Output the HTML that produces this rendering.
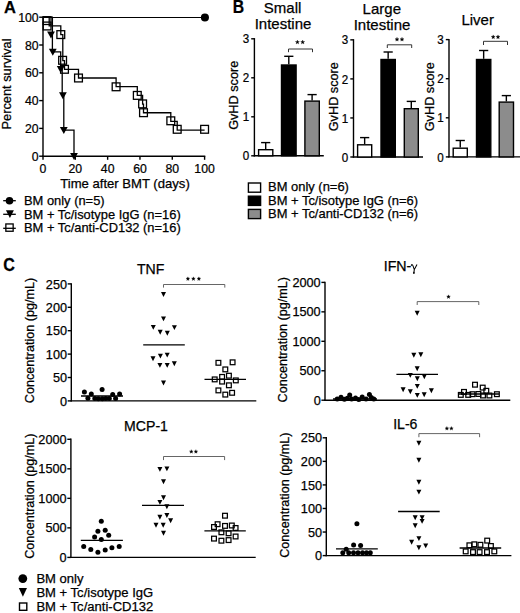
<!DOCTYPE html>
<html><head><meta charset="utf-8"><style>
html,body{margin:0;padding:0;background:#fff;}
svg{display:block;font-family:"Liberation Sans", sans-serif;}
text{fill:#000;stroke:#000;stroke-width:0.25px;}
</style></head><body>
<svg width="520" height="613" viewBox="0 0 520 613">
<rect width="520" height="613" fill="#fff"/>
<text x="4.00" y="13.30" font-size="16.5" text-anchor="start" font-weight="bold" >A</text>
<line x1="43.00" y1="16.50" x2="43.00" y2="156.90" stroke="#000" stroke-width="1.4"/>
<line x1="42.30" y1="156.20" x2="205.30" y2="156.20" stroke="#000" stroke-width="1.4"/>
<line x1="39.20" y1="156.20" x2="43.00" y2="156.20" stroke="#000" stroke-width="1.4"/>
<text transform="translate(38.60,160.80) scale(0.93,1)" x="0" y="0" font-size="13.2" text-anchor="end">0</text>
<line x1="39.20" y1="128.40" x2="43.00" y2="128.40" stroke="#000" stroke-width="1.4"/>
<text transform="translate(38.60,133.00) scale(0.93,1)" x="0" y="0" font-size="13.2" text-anchor="end">20</text>
<line x1="39.20" y1="100.60" x2="43.00" y2="100.60" stroke="#000" stroke-width="1.4"/>
<text transform="translate(38.60,105.20) scale(0.93,1)" x="0" y="0" font-size="13.2" text-anchor="end">40</text>
<line x1="39.20" y1="72.80" x2="43.00" y2="72.80" stroke="#000" stroke-width="1.4"/>
<text transform="translate(38.60,77.40) scale(0.93,1)" x="0" y="0" font-size="13.2" text-anchor="end">60</text>
<line x1="39.20" y1="45.00" x2="43.00" y2="45.00" stroke="#000" stroke-width="1.4"/>
<text transform="translate(38.60,49.60) scale(0.93,1)" x="0" y="0" font-size="13.2" text-anchor="end">80</text>
<line x1="39.20" y1="17.20" x2="43.00" y2="17.20" stroke="#000" stroke-width="1.4"/>
<text transform="translate(38.60,21.80) scale(0.93,1)" x="0" y="0" font-size="13.2" text-anchor="end">100</text>
<line x1="43.00" y1="156.20" x2="43.00" y2="159.80" stroke="#000" stroke-width="1.4"/>
<text transform="translate(43.00,172.70) scale(0.93,1)" x="0" y="0" font-size="13.2" text-anchor="middle">0</text>
<line x1="75.32" y1="156.20" x2="75.32" y2="159.80" stroke="#000" stroke-width="1.4"/>
<text transform="translate(75.32,172.70) scale(0.93,1)" x="0" y="0" font-size="13.2" text-anchor="middle">20</text>
<line x1="107.64" y1="156.20" x2="107.64" y2="159.80" stroke="#000" stroke-width="1.4"/>
<text transform="translate(107.64,172.70) scale(0.93,1)" x="0" y="0" font-size="13.2" text-anchor="middle">40</text>
<line x1="139.96" y1="156.20" x2="139.96" y2="159.80" stroke="#000" stroke-width="1.4"/>
<text transform="translate(139.96,172.70) scale(0.93,1)" x="0" y="0" font-size="13.2" text-anchor="middle">60</text>
<line x1="172.28" y1="156.20" x2="172.28" y2="159.80" stroke="#000" stroke-width="1.4"/>
<text transform="translate(172.28,172.70) scale(0.93,1)" x="0" y="0" font-size="13.2" text-anchor="middle">80</text>
<line x1="204.60" y1="156.20" x2="204.60" y2="159.80" stroke="#000" stroke-width="1.4"/>
<text transform="translate(204.60,172.70) scale(0.93,1)" x="0" y="0" font-size="13.2" text-anchor="middle">100</text>
<text x="125.00" y="188.20" font-size="13.1" text-anchor="middle" font-weight="normal" >Time after BMT (days)</text>
<text transform="translate(10.70,84.00) rotate(-90)" x="0" y="0" font-size="12.8" text-anchor="middle">Percent survival</text>
<line x1="43.00" y1="17.45" x2="204.60" y2="17.45" stroke="#000" stroke-width="1.1"/>
<circle cx="204.90" cy="17.45" r="4.05" fill="#000" stroke="none" stroke-width="0"/>
<path d="M43.0,17.20 L52.40,17.20 L52.40,51.95 L60.70,51.95 L60.70,69.32 L62.20,69.32 L62.20,95.39 L63.80,95.39 L63.80,130.14 L74.00,130.14 L74.00,156.20" fill="none" stroke="#000" stroke-width="1.3"/>
<path d="M47.10,31.38 L54.90,31.38 L51.00,38.38 Z" fill="#000"/>
<path d="M48.90,48.75 L56.70,48.75 L52.80,55.75 Z" fill="#000"/>
<path d="M56.80,66.12 L64.60,66.12 L60.70,73.12 Z" fill="#000"/>
<path d="M59.00,92.19 L66.80,92.19 L62.90,99.19 Z" fill="#000"/>
<path d="M59.90,126.94 L67.70,126.94 L63.80,133.94 Z" fill="#000"/>
<path d="M70.10,153.00 L77.90,153.00 L74.00,160.00 Z" fill="#000"/>
<path d="M43.0,17.20 L49.20,17.20 L49.20,25.89 L60.80,25.89 L60.80,34.58 L62.80,34.58 L62.80,60.64 L64.50,60.64 L64.50,69.32 L78.50,69.32 L78.50,78.01 L116.10,78.01 L116.10,86.70 L137.30,86.70 L137.30,95.39 L142.60,95.39 L142.60,104.07 L143.50,104.07 L143.50,112.76 L170.80,112.76 L170.80,121.45 L177.20,121.45 L177.20,130.14 L204.60,130.14" fill="none" stroke="#000" stroke-width="1.3"/>
<rect x="43.20" y="16.70" width="7.8" height="7.8" fill="none" stroke="#000" stroke-width="1.3"/>
<rect x="43.20" y="22.10" width="7.8" height="7.8" fill="none" stroke="#000" stroke-width="1.3"/>
<rect x="56.90" y="30.70" width="7.8" height="7.8" fill="none" stroke="#000" stroke-width="1.3"/>
<rect x="58.70" y="56.40" width="7.8" height="7.8" fill="none" stroke="#000" stroke-width="1.3"/>
<rect x="60.60" y="65.40" width="7.8" height="7.8" fill="none" stroke="#000" stroke-width="1.3"/>
<rect x="74.60" y="74.10" width="7.8" height="7.8" fill="none" stroke="#000" stroke-width="1.3"/>
<rect x="112.20" y="82.90" width="7.8" height="7.8" fill="none" stroke="#000" stroke-width="1.3"/>
<rect x="133.40" y="91.50" width="7.8" height="7.8" fill="none" stroke="#000" stroke-width="1.3"/>
<rect x="138.70" y="100.00" width="7.8" height="7.8" fill="none" stroke="#000" stroke-width="1.3"/>
<rect x="139.60" y="108.80" width="7.8" height="7.8" fill="none" stroke="#000" stroke-width="1.3"/>
<rect x="166.90" y="116.90" width="7.8" height="7.8" fill="none" stroke="#000" stroke-width="1.3"/>
<rect x="173.30" y="125.40" width="7.8" height="7.8" fill="none" stroke="#000" stroke-width="1.3"/>
<rect x="200.70" y="125.40" width="7.8" height="7.8" fill="none" stroke="#000" stroke-width="1.3"/>
<line x1="3.20" y1="200.70" x2="15.80" y2="200.70" stroke="#000" stroke-width="1.3"/>
<circle cx="9.50" cy="200.80" r="3.8" fill="#000" stroke="none" stroke-width="0"/>
<text x="24.00" y="205.20" font-size="12.9" text-anchor="start" font-weight="normal" >BM only (n=5)</text>
<line x1="3.20" y1="214.30" x2="15.80" y2="214.30" stroke="#000" stroke-width="1.3"/>
<path d="M5.90,210.30 L13.90,210.30 L9.90,218.10 Z" fill="#000"/>
<text x="24.00" y="218.60" font-size="12.9" text-anchor="start" font-weight="normal" >BM + Tc/isotype IgG (n=16)</text>
<rect x="5.85" y="223.95" width="7.3" height="7.3" fill="none" stroke="#000" stroke-width="1.3"/>
<line x1="3.20" y1="228.30" x2="15.80" y2="228.30" stroke="#000" stroke-width="1.3"/>
<text x="24.00" y="232.10" font-size="12.9" text-anchor="start" font-weight="normal" >BM + Tc/anti-CD132 (n=16)</text>
<text transform="translate(232.8,13.4) scale(0.9,1)" font-size="17.5" font-weight="bold">B</text>
<line x1="254.40" y1="38.10" x2="254.40" y2="156.50" stroke="#000" stroke-width="1.4"/>
<line x1="253.70" y1="155.80" x2="323.80" y2="155.80" stroke="#000" stroke-width="1.4"/>
<line x1="251.20" y1="155.80" x2="254.40" y2="155.80" stroke="#000" stroke-width="1.4"/>
<text transform="translate(249.20,160.40) scale(0.9,1)" x="0" y="0" font-size="12.9" text-anchor="end">0</text>
<line x1="251.20" y1="116.80" x2="254.40" y2="116.80" stroke="#000" stroke-width="1.4"/>
<text transform="translate(249.20,121.40) scale(0.9,1)" x="0" y="0" font-size="12.9" text-anchor="end">1</text>
<line x1="251.20" y1="77.80" x2="254.40" y2="77.80" stroke="#000" stroke-width="1.4"/>
<text transform="translate(249.20,82.40) scale(0.9,1)" x="0" y="0" font-size="12.9" text-anchor="end">2</text>
<line x1="251.20" y1="38.80" x2="254.40" y2="38.80" stroke="#000" stroke-width="1.4"/>
<text transform="translate(249.20,43.40) scale(0.9,1)" x="0" y="0" font-size="12.9" text-anchor="end">3</text>
<line x1="265.70" y1="149.00" x2="265.70" y2="142.60" stroke="#000" stroke-width="1.4"/>
<line x1="261.10" y1="142.60" x2="270.30" y2="142.60" stroke="#000" stroke-width="1.4"/>
<rect x="258.60" y="149.70" width="14.20" height="6.10" fill="#fff" stroke="#000" stroke-width="1.4"/>
<line x1="288.80" y1="64.30" x2="288.80" y2="56.30" stroke="#000" stroke-width="1.4"/>
<line x1="284.20" y1="56.30" x2="293.40" y2="56.30" stroke="#000" stroke-width="1.4"/>
<rect x="281.50" y="65.00" width="14.60" height="90.80" fill="#000" stroke="#000" stroke-width="1.4"/>
<line x1="312.10" y1="100.40" x2="312.10" y2="94.60" stroke="#000" stroke-width="1.4"/>
<line x1="307.50" y1="94.60" x2="316.70" y2="94.60" stroke="#000" stroke-width="1.4"/>
<rect x="304.90" y="101.10" width="14.40" height="54.70" fill="#8c8c8c" stroke="#000" stroke-width="1.4"/>
<path d="M288.5,52.2 L288.5,49.0 L312.5,49.0 L312.5,52.2" fill="none" stroke="#333" stroke-width="1"/>
<path d="M297.40,40.10 L297.93,41.47 L299.40,41.55 L298.26,42.48 L298.63,43.90 L297.40,43.10 L296.17,43.90 L296.54,42.48 L295.40,41.55 L296.87,41.47 Z" fill="#000" stroke="#000" stroke-width="0.3"/>
<path d="M302.70,40.10 L303.23,41.47 L304.70,41.55 L303.56,42.48 L303.93,43.90 L302.70,43.10 L301.47,43.90 L301.84,42.48 L300.70,41.55 L302.17,41.47 Z" fill="#000" stroke="#000" stroke-width="0.3"/>
<text x="282.60" y="12.90" font-size="15.0" text-anchor="middle" font-weight="normal" >Small</text>
<text x="283.00" y="28.60" font-size="15.0" text-anchor="middle" font-weight="normal" >Intestine</text>
<text transform="translate(238.40,95.30) rotate(-90)" x="0" y="0" font-size="12.7" text-anchor="middle">GvHD score</text>
<line x1="353.50" y1="39.15" x2="353.50" y2="157.70" stroke="#000" stroke-width="1.4"/>
<line x1="352.80" y1="157.00" x2="423.00" y2="157.00" stroke="#000" stroke-width="1.4"/>
<line x1="350.30" y1="157.00" x2="353.50" y2="157.00" stroke="#000" stroke-width="1.4"/>
<text transform="translate(348.30,161.60) scale(0.9,1)" x="0" y="0" font-size="12.9" text-anchor="end">0</text>
<line x1="350.30" y1="117.95" x2="353.50" y2="117.95" stroke="#000" stroke-width="1.4"/>
<text transform="translate(348.30,122.55) scale(0.9,1)" x="0" y="0" font-size="12.9" text-anchor="end">1</text>
<line x1="350.30" y1="78.90" x2="353.50" y2="78.90" stroke="#000" stroke-width="1.4"/>
<text transform="translate(348.30,83.50) scale(0.9,1)" x="0" y="0" font-size="12.9" text-anchor="end">2</text>
<line x1="350.30" y1="39.85" x2="353.50" y2="39.85" stroke="#000" stroke-width="1.4"/>
<text transform="translate(348.30,44.45) scale(0.9,1)" x="0" y="0" font-size="12.9" text-anchor="end">3</text>
<line x1="364.65" y1="144.10" x2="364.65" y2="137.60" stroke="#000" stroke-width="1.4"/>
<line x1="360.05" y1="137.60" x2="369.25" y2="137.60" stroke="#000" stroke-width="1.4"/>
<rect x="357.60" y="144.80" width="14.10" height="12.20" fill="#fff" stroke="#000" stroke-width="1.4"/>
<line x1="388.15" y1="58.80" x2="388.15" y2="52.00" stroke="#000" stroke-width="1.4"/>
<line x1="383.55" y1="52.00" x2="392.75" y2="52.00" stroke="#000" stroke-width="1.4"/>
<rect x="381.00" y="59.50" width="14.30" height="97.50" fill="#000" stroke="#000" stroke-width="1.4"/>
<line x1="411.30" y1="108.00" x2="411.30" y2="101.40" stroke="#000" stroke-width="1.4"/>
<line x1="406.70" y1="101.40" x2="415.90" y2="101.40" stroke="#000" stroke-width="1.4"/>
<rect x="404.30" y="108.70" width="14.00" height="48.30" fill="#8c8c8c" stroke="#000" stroke-width="1.4"/>
<path d="M387.3,48.0 L387.3,44.8 L411.7,44.8 L411.7,48.0" fill="none" stroke="#333" stroke-width="1"/>
<path d="M397.00,37.30 L397.53,38.67 L399.00,38.75 L397.86,39.68 L398.23,41.10 L397.00,40.30 L395.77,41.10 L396.14,39.68 L395.00,38.75 L396.47,38.67 Z" fill="#000" stroke="#000" stroke-width="0.3"/>
<path d="M402.00,37.30 L402.53,38.67 L404.00,38.75 L402.86,39.68 L403.23,41.10 L402.00,40.30 L400.77,41.10 L401.14,39.68 L400.00,38.75 L401.47,38.67 Z" fill="#000" stroke="#000" stroke-width="0.3"/>
<text x="381.80" y="14.30" font-size="15.0" text-anchor="middle" font-weight="normal" >Large</text>
<text x="382.00" y="30.10" font-size="15.0" text-anchor="middle" font-weight="normal" >Intestine</text>
<text transform="translate(337.90,96.70) rotate(-90)" x="0" y="0" font-size="12.7" text-anchor="middle">GvHD score</text>
<line x1="449.00" y1="38.90" x2="449.00" y2="157.60" stroke="#000" stroke-width="1.4"/>
<line x1="448.30" y1="156.90" x2="520.00" y2="156.90" stroke="#000" stroke-width="1.4"/>
<line x1="445.80" y1="156.90" x2="449.00" y2="156.90" stroke="#000" stroke-width="1.4"/>
<text transform="translate(443.80,161.50) scale(0.9,1)" x="0" y="0" font-size="12.9" text-anchor="end">0</text>
<line x1="445.80" y1="117.80" x2="449.00" y2="117.80" stroke="#000" stroke-width="1.4"/>
<text transform="translate(443.80,122.40) scale(0.9,1)" x="0" y="0" font-size="12.9" text-anchor="end">1</text>
<line x1="445.80" y1="78.70" x2="449.00" y2="78.70" stroke="#000" stroke-width="1.4"/>
<text transform="translate(443.80,83.30) scale(0.9,1)" x="0" y="0" font-size="12.9" text-anchor="end">2</text>
<line x1="445.80" y1="39.60" x2="449.00" y2="39.60" stroke="#000" stroke-width="1.4"/>
<text transform="translate(443.80,44.20) scale(0.9,1)" x="0" y="0" font-size="12.9" text-anchor="end">3</text>
<line x1="460.25" y1="147.50" x2="460.25" y2="140.50" stroke="#000" stroke-width="1.4"/>
<line x1="455.65" y1="140.50" x2="464.85" y2="140.50" stroke="#000" stroke-width="1.4"/>
<rect x="453.20" y="148.20" width="14.10" height="8.70" fill="#fff" stroke="#000" stroke-width="1.4"/>
<line x1="483.65" y1="58.80" x2="483.65" y2="50.50" stroke="#000" stroke-width="1.4"/>
<line x1="479.05" y1="50.50" x2="488.25" y2="50.50" stroke="#000" stroke-width="1.4"/>
<rect x="476.50" y="59.50" width="14.30" height="97.40" fill="#000" stroke="#000" stroke-width="1.4"/>
<line x1="506.35" y1="101.40" x2="506.35" y2="95.60" stroke="#000" stroke-width="1.4"/>
<line x1="501.75" y1="95.60" x2="510.95" y2="95.60" stroke="#000" stroke-width="1.4"/>
<rect x="499.20" y="102.10" width="14.30" height="54.80" fill="#8c8c8c" stroke="#000" stroke-width="1.4"/>
<path d="M483.5,45.0 L483.5,41.3 L507.5,41.3 L507.5,45.0" fill="none" stroke="#333" stroke-width="1"/>
<path d="M493.20,34.90 L493.73,36.27 L495.20,36.35 L494.06,37.28 L494.43,38.70 L493.20,37.90 L491.97,38.70 L492.34,37.28 L491.20,36.35 L492.67,36.27 Z" fill="#000" stroke="#000" stroke-width="0.3"/>
<path d="M498.00,34.90 L498.53,36.27 L500.00,36.35 L498.86,37.28 L499.23,38.70 L498.00,37.90 L496.77,38.70 L497.14,37.28 L496.00,36.35 L497.47,36.27 Z" fill="#000" stroke="#000" stroke-width="0.3"/>
<text x="477.70" y="25.30" font-size="15.0" text-anchor="middle" font-weight="normal" >Liver</text>
<text transform="translate(433.90,96.70) rotate(-90)" x="0" y="0" font-size="12.7" text-anchor="middle">GvHD score</text>
<rect x="248.40" y="183.00" width="12.2" height="9.2" fill="#fff" stroke="#000" stroke-width="1.4"/>
<text x="268.00" y="191.40" font-size="12.95" text-anchor="start" font-weight="normal" >BM only (n=6)</text>
<rect x="248.40" y="196.20" width="12.2" height="9.2" fill="#000" stroke="#000" stroke-width="1.4"/>
<text x="268.00" y="204.60" font-size="12.95" text-anchor="start" font-weight="normal" >BM + Tc/isotype IgG (n=6)</text>
<rect x="248.40" y="209.40" width="12.2" height="9.2" fill="#8c8c8c" stroke="#000" stroke-width="1.4"/>
<text x="268.00" y="217.80" font-size="12.95" text-anchor="start" font-weight="normal" >BM + Tc/anti-CD132 (n=6)</text>
<text transform="translate(3.3,270.8) scale(0.92,1)" font-size="17.5" font-weight="bold">C</text>
<line x1="71.30" y1="283.20" x2="71.30" y2="401.60" stroke="#000" stroke-width="1.4"/>
<line x1="70.60" y1="400.90" x2="256.30" y2="400.90" stroke="#000" stroke-width="1.4"/>
<line x1="67.70" y1="400.90" x2="71.30" y2="400.90" stroke="#000" stroke-width="1.4"/>
<text x="67.00" y="405.50" font-size="12.7" text-anchor="end" font-weight="normal" >0</text>
<line x1="67.70" y1="377.50" x2="71.30" y2="377.50" stroke="#000" stroke-width="1.4"/>
<text x="67.00" y="382.10" font-size="12.7" text-anchor="end" font-weight="normal" >50</text>
<line x1="67.70" y1="354.10" x2="71.30" y2="354.10" stroke="#000" stroke-width="1.4"/>
<text x="67.00" y="358.70" font-size="12.7" text-anchor="end" font-weight="normal" >100</text>
<line x1="67.70" y1="330.70" x2="71.30" y2="330.70" stroke="#000" stroke-width="1.4"/>
<text x="67.00" y="335.30" font-size="12.7" text-anchor="end" font-weight="normal" >150</text>
<line x1="67.70" y1="307.30" x2="71.30" y2="307.30" stroke="#000" stroke-width="1.4"/>
<text x="67.00" y="311.90" font-size="12.7" text-anchor="end" font-weight="normal" >200</text>
<line x1="67.70" y1="283.90" x2="71.30" y2="283.90" stroke="#000" stroke-width="1.4"/>
<text x="67.00" y="288.50" font-size="12.7" text-anchor="end" font-weight="normal" >250</text>
<text x="150.60" y="274.10" font-size="14.1" text-anchor="middle" font-weight="normal" >TNF</text>
<path d="M163.5,287.6 L163.5,284.5 L224.8,284.5 L224.8,287.6" fill="none" stroke="#555" stroke-width="0.9"/>
<path d="M187.90,276.85 L188.40,278.11 L189.75,278.20 L188.71,279.06 L189.05,280.38 L187.90,279.65 L186.75,280.38 L187.09,279.06 L186.05,278.20 L187.40,278.11 Z" fill="#000" stroke="#000" stroke-width="0.3"/>
<path d="M193.40,276.85 L193.90,278.11 L195.25,278.20 L194.21,279.06 L194.55,280.38 L193.40,279.65 L192.25,280.38 L192.59,279.06 L191.55,278.20 L192.90,278.11 Z" fill="#000" stroke="#000" stroke-width="0.3"/>
<path d="M198.90,276.85 L199.40,278.11 L200.75,278.20 L199.71,279.06 L200.05,280.38 L198.90,279.65 L197.75,280.38 L198.09,279.06 L197.05,278.20 L198.40,278.11 Z" fill="#000" stroke="#000" stroke-width="0.3"/>
<text transform="translate(34.20,340.50) rotate(-90)" x="0" y="0" font-size="12.6" text-anchor="middle">Concentration (pg/mL)</text>
<circle cx="84.40" cy="391.90" r="2.5" fill="#000" stroke="none" stroke-width="0"/>
<circle cx="91.30" cy="394.00" r="2.5" fill="#000" stroke="none" stroke-width="0"/>
<circle cx="102.10" cy="389.40" r="2.5" fill="#000" stroke="none" stroke-width="0"/>
<circle cx="112.70" cy="394.60" r="2.5" fill="#000" stroke="none" stroke-width="0"/>
<circle cx="119.60" cy="394.00" r="2.5" fill="#000" stroke="none" stroke-width="0"/>
<circle cx="87.90" cy="398.30" r="2.5" fill="#000" stroke="none" stroke-width="0"/>
<circle cx="94.80" cy="398.60" r="2.5" fill="#000" stroke="none" stroke-width="0"/>
<circle cx="98.30" cy="398.80" r="2.5" fill="#000" stroke="none" stroke-width="0"/>
<circle cx="102.30" cy="398.80" r="2.5" fill="#000" stroke="none" stroke-width="0"/>
<circle cx="105.80" cy="398.60" r="2.5" fill="#000" stroke="none" stroke-width="0"/>
<circle cx="109.30" cy="398.60" r="2.5" fill="#000" stroke="none" stroke-width="0"/>
<circle cx="115.60" cy="398.40" r="2.5" fill="#000" stroke="none" stroke-width="0"/>
<line x1="81.00" y1="396.00" x2="123.00" y2="396.00" stroke="#000" stroke-width="1.3"/>
<path d="M161.00,292.05 L166.00,292.05 L163.50,296.95 Z" fill="#000"/>
<path d="M161.00,316.45 L166.00,316.45 L163.50,321.35 Z" fill="#000"/>
<path d="M150.80,324.95 L155.80,324.95 L153.30,329.85 Z" fill="#000"/>
<path d="M171.90,325.15 L176.90,325.15 L174.40,330.05 Z" fill="#000"/>
<path d="M157.70,329.75 L162.70,329.75 L160.20,334.65 Z" fill="#000"/>
<path d="M164.80,330.75 L169.80,330.75 L167.30,335.65 Z" fill="#000"/>
<path d="M150.50,356.35 L155.50,356.35 L153.00,361.25 Z" fill="#000"/>
<path d="M157.90,353.65 L162.90,353.65 L160.40,358.55 Z" fill="#000"/>
<path d="M164.70,352.65 L169.70,352.65 L167.20,357.55 Z" fill="#000"/>
<path d="M157.40,362.95 L162.40,362.95 L159.90,367.85 Z" fill="#000"/>
<path d="M164.70,362.95 L169.70,362.95 L167.20,367.85 Z" fill="#000"/>
<path d="M171.80,361.25 L176.80,361.25 L174.30,366.15 Z" fill="#000"/>
<path d="M161.00,380.55 L166.00,380.55 L163.50,385.45 Z" fill="#000"/>
<line x1="143.20" y1="344.90" x2="184.80" y2="344.90" stroke="#000" stroke-width="1.3"/>
<line x1="204.50" y1="379.40" x2="246.00" y2="379.40" stroke="#000" stroke-width="1.3"/>
<rect x="216.03" y="360.43" width="4.75" height="4.75" fill="none" stroke="#000" stroke-width="1.25"/>
<rect x="230.22" y="359.93" width="4.75" height="4.75" fill="none" stroke="#000" stroke-width="1.25"/>
<rect x="222.93" y="367.02" width="4.75" height="4.75" fill="none" stroke="#000" stroke-width="1.25"/>
<rect x="219.72" y="374.52" width="4.75" height="4.75" fill="none" stroke="#000" stroke-width="1.25"/>
<rect x="226.53" y="373.32" width="4.75" height="4.75" fill="none" stroke="#000" stroke-width="1.25"/>
<rect x="212.32" y="377.02" width="4.75" height="4.75" fill="none" stroke="#000" stroke-width="1.25"/>
<rect x="219.72" y="379.23" width="4.75" height="4.75" fill="none" stroke="#000" stroke-width="1.25"/>
<rect x="233.43" y="378.02" width="4.75" height="4.75" fill="none" stroke="#000" stroke-width="1.25"/>
<rect x="226.53" y="382.93" width="4.75" height="4.75" fill="none" stroke="#000" stroke-width="1.25"/>
<rect x="216.03" y="388.02" width="4.75" height="4.75" fill="none" stroke="#000" stroke-width="1.25"/>
<rect x="229.72" y="390.43" width="4.75" height="4.75" fill="none" stroke="#000" stroke-width="1.25"/>
<rect x="222.93" y="392.23" width="4.75" height="4.75" fill="none" stroke="#000" stroke-width="1.25"/>
<line x1="325.00" y1="281.70" x2="325.00" y2="400.90" stroke="#000" stroke-width="1.4"/>
<line x1="324.30" y1="400.20" x2="510.30" y2="400.20" stroke="#000" stroke-width="1.4"/>
<line x1="321.40" y1="400.20" x2="325.00" y2="400.20" stroke="#000" stroke-width="1.4"/>
<text x="320.70" y="404.80" font-size="12.7" text-anchor="end" font-weight="normal" >0</text>
<line x1="321.40" y1="370.75" x2="325.00" y2="370.75" stroke="#000" stroke-width="1.4"/>
<text x="320.70" y="375.35" font-size="12.7" text-anchor="end" font-weight="normal" >500</text>
<line x1="321.40" y1="341.30" x2="325.00" y2="341.30" stroke="#000" stroke-width="1.4"/>
<text x="320.70" y="345.90" font-size="12.7" text-anchor="end" font-weight="normal" >1000</text>
<line x1="321.40" y1="311.85" x2="325.00" y2="311.85" stroke="#000" stroke-width="1.4"/>
<text x="320.70" y="316.45" font-size="12.7" text-anchor="end" font-weight="normal" >1500</text>
<line x1="321.40" y1="282.40" x2="325.00" y2="282.40" stroke="#000" stroke-width="1.4"/>
<text x="320.70" y="287.00" font-size="12.7" text-anchor="end" font-weight="normal" >2000</text>
<text x="383.70" y="271.10" font-size="14.2">IFN-</text>
<path d="M411.1,265.7 Q412.2,263.4 413.1,266.1 L414.3,269.6 M417.0,264.6 L414.3,269.6 L413.8,273.4" fill="none" stroke="#000" stroke-width="1.05"/>
<ellipse cx="413.9" cy="272.9" rx="0.75" ry="1.1" fill="#000"/>
<path d="M417.2,305.0 L417.2,301.6 L478.8,301.6 L478.8,305.0" fill="none" stroke="#555" stroke-width="0.9"/>
<path d="M448.50,294.85 L449.00,296.11 L450.35,296.20 L449.31,297.06 L449.65,298.38 L448.50,297.65 L447.35,298.38 L447.69,297.06 L446.65,296.20 L448.00,296.11 Z" fill="#000" stroke="#000" stroke-width="0.3"/>
<text transform="translate(287.30,339.80) rotate(-90)" x="0" y="0" font-size="12.6" text-anchor="middle">Concentration (pg/mL)</text>
<circle cx="337.20" cy="399.00" r="2.5" fill="#000" stroke="none" stroke-width="0"/>
<circle cx="341.00" cy="397.30" r="2.5" fill="#000" stroke="none" stroke-width="0"/>
<circle cx="344.40" cy="399.20" r="2.5" fill="#000" stroke="none" stroke-width="0"/>
<circle cx="347.30" cy="398.30" r="2.5" fill="#000" stroke="none" stroke-width="0"/>
<circle cx="349.70" cy="395.10" r="2.5" fill="#000" stroke="none" stroke-width="0"/>
<circle cx="351.60" cy="399.00" r="2.5" fill="#000" stroke="none" stroke-width="0"/>
<circle cx="355.50" cy="398.00" r="2.5" fill="#000" stroke="none" stroke-width="0"/>
<circle cx="358.80" cy="399.50" r="2.5" fill="#000" stroke="none" stroke-width="0"/>
<circle cx="362.20" cy="397.00" r="2.5" fill="#000" stroke="none" stroke-width="0"/>
<circle cx="366.00" cy="399.00" r="2.5" fill="#000" stroke="none" stroke-width="0"/>
<circle cx="369.40" cy="394.60" r="2.5" fill="#000" stroke="none" stroke-width="0"/>
<circle cx="371.30" cy="397.50" r="2.5" fill="#000" stroke="none" stroke-width="0"/>
<circle cx="373.80" cy="399.00" r="2.5" fill="#000" stroke="none" stroke-width="0"/>
<line x1="333.00" y1="399.00" x2="377.00" y2="399.00" stroke="#000" stroke-width="1.3"/>
<path d="M414.70,310.75 L419.70,310.75 L417.20,315.65 Z" fill="#000"/>
<path d="M411.30,352.75 L416.30,352.75 L413.80,357.65 Z" fill="#000"/>
<path d="M418.30,352.35 L423.30,352.35 L420.80,357.25 Z" fill="#000"/>
<path d="M414.70,366.35 L419.70,366.35 L417.20,371.25 Z" fill="#000"/>
<path d="M407.80,372.95 L412.80,372.95 L410.30,377.85 Z" fill="#000"/>
<path d="M414.80,376.35 L419.80,376.35 L417.30,381.25 Z" fill="#000"/>
<path d="M421.80,374.35 L426.80,374.35 L424.30,379.25 Z" fill="#000"/>
<path d="M414.80,383.95 L419.80,383.95 L417.30,388.85 Z" fill="#000"/>
<path d="M400.60,387.35 L405.60,387.35 L403.10,392.25 Z" fill="#000"/>
<path d="M407.80,389.35 L412.80,389.35 L410.30,394.25 Z" fill="#000"/>
<path d="M428.90,388.35 L433.90,388.35 L431.40,393.25 Z" fill="#000"/>
<path d="M414.80,392.95 L419.80,392.95 L417.30,397.85 Z" fill="#000"/>
<path d="M421.70,392.35 L426.70,392.35 L424.20,397.25 Z" fill="#000"/>
<line x1="396.40" y1="374.30" x2="438.00" y2="374.30" stroke="#000" stroke-width="1.3"/>
<line x1="459.00" y1="394.00" x2="499.00" y2="394.00" stroke="#000" stroke-width="1.3"/>
<rect x="472.62" y="382.32" width="4.75" height="4.75" fill="none" stroke="#000" stroke-width="1.25"/>
<rect x="480.32" y="385.23" width="4.75" height="4.75" fill="none" stroke="#000" stroke-width="1.25"/>
<rect x="483.93" y="388.43" width="4.75" height="4.75" fill="none" stroke="#000" stroke-width="1.25"/>
<rect x="461.62" y="389.52" width="4.75" height="4.75" fill="none" stroke="#000" stroke-width="1.25"/>
<rect x="458.43" y="392.52" width="4.75" height="4.75" fill="none" stroke="#000" stroke-width="1.25"/>
<rect x="465.82" y="392.52" width="4.75" height="4.75" fill="none" stroke="#000" stroke-width="1.25"/>
<rect x="470.12" y="391.82" width="4.75" height="4.75" fill="none" stroke="#000" stroke-width="1.25"/>
<rect x="476.02" y="391.62" width="4.75" height="4.75" fill="none" stroke="#000" stroke-width="1.25"/>
<rect x="480.62" y="393.12" width="4.75" height="4.75" fill="none" stroke="#000" stroke-width="1.25"/>
<rect x="487.02" y="393.12" width="4.75" height="4.75" fill="none" stroke="#000" stroke-width="1.25"/>
<rect x="494.52" y="391.82" width="4.75" height="4.75" fill="none" stroke="#000" stroke-width="1.25"/>
<line x1="70.90" y1="438.60" x2="70.90" y2="558.10" stroke="#000" stroke-width="1.4"/>
<line x1="70.20" y1="557.40" x2="255.70" y2="557.40" stroke="#000" stroke-width="1.4"/>
<line x1="67.30" y1="557.40" x2="70.90" y2="557.40" stroke="#000" stroke-width="1.4"/>
<text x="66.60" y="562.00" font-size="12.7" text-anchor="end" font-weight="normal" >0</text>
<line x1="67.30" y1="527.88" x2="70.90" y2="527.88" stroke="#000" stroke-width="1.4"/>
<text x="66.60" y="532.48" font-size="12.7" text-anchor="end" font-weight="normal" >500</text>
<line x1="67.30" y1="498.35" x2="70.90" y2="498.35" stroke="#000" stroke-width="1.4"/>
<text x="66.60" y="502.95" font-size="12.7" text-anchor="end" font-weight="normal" >1000</text>
<line x1="67.30" y1="468.82" x2="70.90" y2="468.82" stroke="#000" stroke-width="1.4"/>
<text x="66.60" y="473.43" font-size="12.7" text-anchor="end" font-weight="normal" >1500</text>
<line x1="67.30" y1="439.30" x2="70.90" y2="439.30" stroke="#000" stroke-width="1.4"/>
<text x="66.60" y="443.90" font-size="12.7" text-anchor="end" font-weight="normal" >2000</text>
<text x="146.00" y="430.80" font-size="14.1" text-anchor="middle" font-weight="normal" >MCP-1</text>
<path d="M163.5,460.1 L163.5,456.5 L224.6,456.5 L224.6,460.1" fill="none" stroke="#555" stroke-width="0.9"/>
<path d="M191.30,449.65 L191.80,450.91 L193.15,451.00 L192.11,451.86 L192.45,453.18 L191.30,452.45 L190.15,453.18 L190.49,451.86 L189.45,451.00 L190.80,450.91 Z" fill="#000" stroke="#000" stroke-width="0.3"/>
<path d="M195.90,449.65 L196.40,450.91 L197.75,451.00 L196.71,451.86 L197.05,453.18 L195.90,452.45 L194.75,453.18 L195.09,451.86 L194.05,451.00 L195.40,450.91 Z" fill="#000" stroke="#000" stroke-width="0.3"/>
<text transform="translate(34.10,496.10) rotate(-90)" x="0" y="0" font-size="12.6" text-anchor="middle">Concentration (pg/mL)</text>
<circle cx="101.30" cy="521.20" r="2.5" fill="#000" stroke="none" stroke-width="0"/>
<circle cx="97.90" cy="531.20" r="2.5" fill="#000" stroke="none" stroke-width="0"/>
<circle cx="105.20" cy="530.20" r="2.5" fill="#000" stroke="none" stroke-width="0"/>
<circle cx="94.60" cy="537.10" r="2.5" fill="#000" stroke="none" stroke-width="0"/>
<circle cx="108.70" cy="535.20" r="2.5" fill="#000" stroke="none" stroke-width="0"/>
<circle cx="101.30" cy="539.40" r="2.5" fill="#000" stroke="none" stroke-width="0"/>
<circle cx="83.70" cy="546.50" r="2.5" fill="#000" stroke="none" stroke-width="0"/>
<circle cx="90.80" cy="549.60" r="2.5" fill="#000" stroke="none" stroke-width="0"/>
<circle cx="97.90" cy="552.30" r="2.5" fill="#000" stroke="none" stroke-width="0"/>
<circle cx="105.20" cy="550.00" r="2.5" fill="#000" stroke="none" stroke-width="0"/>
<circle cx="111.90" cy="547.70" r="2.5" fill="#000" stroke="none" stroke-width="0"/>
<circle cx="119.20" cy="546.50" r="2.5" fill="#000" stroke="none" stroke-width="0"/>
<line x1="80.80" y1="540.40" x2="122.90" y2="540.40" stroke="#000" stroke-width="1.3"/>
<path d="M157.40,466.95 L162.40,466.95 L159.90,471.85 Z" fill="#000"/>
<path d="M164.40,466.45 L169.40,466.45 L166.90,471.35 Z" fill="#000"/>
<path d="M161.00,479.35 L166.00,479.35 L163.50,484.25 Z" fill="#000"/>
<path d="M161.00,495.25 L166.00,495.25 L163.50,500.15 Z" fill="#000"/>
<path d="M157.40,499.95 L162.40,499.95 L159.90,504.85 Z" fill="#000"/>
<path d="M164.40,504.35 L169.40,504.35 L166.90,509.25 Z" fill="#000"/>
<path d="M157.40,514.75 L162.40,514.75 L159.90,519.65 Z" fill="#000"/>
<path d="M164.40,513.05 L169.40,513.05 L166.90,517.95 Z" fill="#000"/>
<path d="M153.50,522.75 L158.50,522.75 L156.00,527.65 Z" fill="#000"/>
<path d="M160.70,522.75 L165.70,522.75 L163.20,527.65 Z" fill="#000"/>
<path d="M168.10,518.25 L173.10,518.25 L170.60,523.15 Z" fill="#000"/>
<path d="M161.00,530.75 L166.00,530.75 L163.50,535.65 Z" fill="#000"/>
<line x1="142.00" y1="505.40" x2="184.00" y2="505.40" stroke="#000" stroke-width="1.3"/>
<line x1="204.40" y1="530.80" x2="245.80" y2="530.80" stroke="#000" stroke-width="1.3"/>
<rect x="222.62" y="513.33" width="4.75" height="4.75" fill="none" stroke="#000" stroke-width="1.25"/>
<rect x="215.22" y="521.83" width="4.75" height="4.75" fill="none" stroke="#000" stroke-width="1.25"/>
<rect x="211.62" y="524.62" width="4.75" height="4.75" fill="none" stroke="#000" stroke-width="1.25"/>
<rect x="222.62" y="523.52" width="4.75" height="4.75" fill="none" stroke="#000" stroke-width="1.25"/>
<rect x="229.43" y="523.12" width="4.75" height="4.75" fill="none" stroke="#000" stroke-width="1.25"/>
<rect x="233.22" y="525.62" width="4.75" height="4.75" fill="none" stroke="#000" stroke-width="1.25"/>
<rect x="219.03" y="529.92" width="4.75" height="4.75" fill="none" stroke="#000" stroke-width="1.25"/>
<rect x="226.22" y="530.92" width="4.75" height="4.75" fill="none" stroke="#000" stroke-width="1.25"/>
<rect x="233.22" y="534.12" width="4.75" height="4.75" fill="none" stroke="#000" stroke-width="1.25"/>
<rect x="211.62" y="536.23" width="4.75" height="4.75" fill="none" stroke="#000" stroke-width="1.25"/>
<rect x="219.03" y="538.33" width="4.75" height="4.75" fill="none" stroke="#000" stroke-width="1.25"/>
<rect x="226.22" y="537.73" width="4.75" height="4.75" fill="none" stroke="#000" stroke-width="1.25"/>
<line x1="326.30" y1="437.10" x2="326.30" y2="556.30" stroke="#000" stroke-width="1.4"/>
<line x1="325.60" y1="555.60" x2="511.40" y2="555.60" stroke="#000" stroke-width="1.4"/>
<line x1="322.70" y1="555.60" x2="326.30" y2="555.60" stroke="#000" stroke-width="1.4"/>
<text x="322.00" y="560.20" font-size="12.7" text-anchor="end" font-weight="normal" >0</text>
<line x1="322.70" y1="532.04" x2="326.30" y2="532.04" stroke="#000" stroke-width="1.4"/>
<text x="322.00" y="536.64" font-size="12.7" text-anchor="end" font-weight="normal" >50</text>
<line x1="322.70" y1="508.48" x2="326.30" y2="508.48" stroke="#000" stroke-width="1.4"/>
<text x="322.00" y="513.08" font-size="12.7" text-anchor="end" font-weight="normal" >100</text>
<line x1="322.70" y1="484.92" x2="326.30" y2="484.92" stroke="#000" stroke-width="1.4"/>
<text x="322.00" y="489.52" font-size="12.7" text-anchor="end" font-weight="normal" >150</text>
<line x1="322.70" y1="461.36" x2="326.30" y2="461.36" stroke="#000" stroke-width="1.4"/>
<text x="322.00" y="465.96" font-size="12.7" text-anchor="end" font-weight="normal" >200</text>
<line x1="322.70" y1="437.80" x2="326.30" y2="437.80" stroke="#000" stroke-width="1.4"/>
<text x="322.00" y="442.40" font-size="12.7" text-anchor="end" font-weight="normal" >250</text>
<text x="405.30" y="428.80" font-size="14.1" text-anchor="middle" font-weight="normal" >IL-6</text>
<path d="M418.9,437.2 L418.9,433.6 L479.6,433.6 L479.6,437.2" fill="none" stroke="#555" stroke-width="0.9"/>
<path d="M446.90,426.55 L447.40,427.81 L448.75,427.90 L447.71,428.76 L448.05,430.08 L446.90,429.35 L445.75,430.08 L446.09,428.76 L445.05,427.90 L446.40,427.81 Z" fill="#000" stroke="#000" stroke-width="0.3"/>
<path d="M451.40,426.55 L451.90,427.81 L453.25,427.90 L452.21,428.76 L452.55,430.08 L451.40,429.35 L450.25,430.08 L450.59,428.76 L449.55,427.90 L450.90,427.81 Z" fill="#000" stroke="#000" stroke-width="0.3"/>
<text transform="translate(289.20,495.10) rotate(-90)" x="0" y="0" font-size="12.6" text-anchor="middle">Concentration (pg/mL)</text>
<circle cx="356.90" cy="523.80" r="2.5" fill="#000" stroke="none" stroke-width="0"/>
<circle cx="353.60" cy="545.10" r="2.5" fill="#000" stroke="none" stroke-width="0"/>
<circle cx="360.60" cy="545.50" r="2.5" fill="#000" stroke="none" stroke-width="0"/>
<circle cx="346.20" cy="549.30" r="2.5" fill="#000" stroke="none" stroke-width="0"/>
<circle cx="342.80" cy="552.80" r="2.5" fill="#000" stroke="none" stroke-width="0"/>
<circle cx="348.70" cy="552.80" r="2.5" fill="#000" stroke="none" stroke-width="0"/>
<circle cx="353.50" cy="552.80" r="2.5" fill="#000" stroke="none" stroke-width="0"/>
<circle cx="358.00" cy="552.80" r="2.5" fill="#000" stroke="none" stroke-width="0"/>
<circle cx="362.50" cy="552.80" r="2.5" fill="#000" stroke="none" stroke-width="0"/>
<circle cx="366.50" cy="552.80" r="2.5" fill="#000" stroke="none" stroke-width="0"/>
<circle cx="370.30" cy="552.80" r="2.5" fill="#000" stroke="none" stroke-width="0"/>
<line x1="336.00" y1="548.90" x2="377.80" y2="548.90" stroke="#000" stroke-width="1.3"/>
<path d="M416.40,440.75 L421.40,440.75 L418.90,445.65 Z" fill="#000"/>
<path d="M416.40,457.85 L421.40,457.85 L418.90,462.75 Z" fill="#000"/>
<path d="M416.40,479.85 L421.40,479.85 L418.90,484.75 Z" fill="#000"/>
<path d="M416.40,489.65 L421.40,489.65 L418.90,494.55 Z" fill="#000"/>
<path d="M412.70,515.35 L417.70,515.35 L415.20,520.25 Z" fill="#000"/>
<path d="M419.60,515.35 L424.60,515.35 L422.10,520.25 Z" fill="#000"/>
<path d="M419.60,518.95 L424.60,518.95 L422.10,523.85 Z" fill="#000"/>
<path d="M412.70,523.35 L417.70,523.35 L415.20,528.25 Z" fill="#000"/>
<path d="M416.40,536.15 L421.40,536.15 L418.90,541.05 Z" fill="#000"/>
<path d="M409.10,539.75 L414.10,539.75 L411.60,544.65 Z" fill="#000"/>
<path d="M423.20,543.45 L428.20,543.45 L425.70,548.35 Z" fill="#000"/>
<path d="M416.40,545.35 L421.40,545.35 L418.90,550.25 Z" fill="#000"/>
<line x1="398.10" y1="511.50" x2="439.70" y2="511.50" stroke="#000" stroke-width="1.3"/>
<line x1="459.60" y1="548.00" x2="501.20" y2="548.00" stroke="#000" stroke-width="1.3"/>
<rect x="484.82" y="538.23" width="4.75" height="4.75" fill="none" stroke="#000" stroke-width="1.25"/>
<rect x="467.02" y="542.92" width="4.75" height="4.75" fill="none" stroke="#000" stroke-width="1.25"/>
<rect x="471.93" y="541.92" width="4.75" height="4.75" fill="none" stroke="#000" stroke-width="1.25"/>
<rect x="478.02" y="542.42" width="4.75" height="4.75" fill="none" stroke="#000" stroke-width="1.25"/>
<rect x="488.52" y="543.62" width="4.75" height="4.75" fill="none" stroke="#000" stroke-width="1.25"/>
<rect x="463.32" y="549.02" width="4.75" height="4.75" fill="none" stroke="#000" stroke-width="1.25"/>
<rect x="470.62" y="549.73" width="4.75" height="4.75" fill="none" stroke="#000" stroke-width="1.25"/>
<rect x="477.23" y="549.73" width="4.75" height="4.75" fill="none" stroke="#000" stroke-width="1.25"/>
<rect x="484.62" y="549.73" width="4.75" height="4.75" fill="none" stroke="#000" stroke-width="1.25"/>
<rect x="491.93" y="549.02" width="4.75" height="4.75" fill="none" stroke="#000" stroke-width="1.25"/>
<circle cx="22.80" cy="578.60" r="4.4" fill="#000" stroke="none" stroke-width="0"/>
<text x="36.40" y="582.80" font-size="13.05" text-anchor="start" font-weight="normal" >BM only</text>
<path d="M18.80,587.90 L27.00,587.90 L22.90,596.70 Z" fill="#000"/>
<text x="36.40" y="596.60" font-size="13.05" text-anchor="start" font-weight="normal" >BM + Tc/isotype IgG</text>
<rect x="19.5" y="603.0" width="7.3" height="7.3" fill="#fff" stroke="#000" stroke-width="1.4"/>
<text x="36.40" y="610.90" font-size="13.05" text-anchor="start" font-weight="normal" >BM + Tc/anti-CD132</text>
</svg>
</body></html>
